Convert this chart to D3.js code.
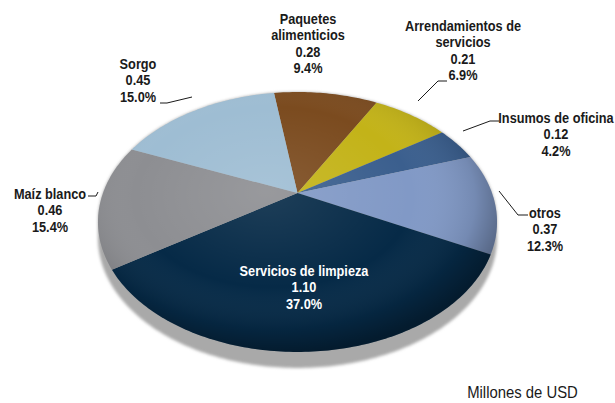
<!DOCTYPE html>
<html>
<head>
<meta charset="utf-8">
<script src="https://cdn.jsdelivr.net/npm/d3@7"></script>
<style>
  html, body { margin: 0; padding: 0; background: #fff; }
  svg { display: block; }
  .lbl { font-family: "Liberation Sans", Arial, sans-serif; font-weight: bold; font-size: 15px; }
  .unit { font-family: "Liberation Sans", Arial, sans-serif; font-size: 16px; fill: #1a1a1a; }
</style>
</head>
<body>
<svg id="chart" width="615" height="403"></svg>
<script>
// ---- data ----
const categories = ["Paquetes alimenticios", "Arrendamientos de servicios", "Insumos de oficina", "otros", "Servicios de limpieza", "Maíz blanco", "Sorgo"];
const values = [0.28, 0.21, 0.12, 0.37, 1.10, 0.46, 0.45];
const percentLabels = ["9.4%", "6.9%", "4.2%", "12.3%", "37.0%", "15.4%", "15.0%"];
const nameLines = [["Paquetes", "alimenticios"], ["Arrendamientos de", "servicios"], ["Insumos de oficina"], ["otros"], ["Servicios de limpieza"], ["Maíz blanco"], ["Sorgo"]];
const unitLabel = "Millones de USD";

// ---- styles / layout ----
const colors = ["#7b4b1f", "#c3b318", "#3b5f8e", "#8199c6", "#062a47", "#8d8e92", "#9ebdd3"];
const labelPos = [[308, 23.5], [463, 30.5], [556, 122.5], [545, 217.5], [304, 275.5], [50, 198.5], [138, 68.5]];
const labelColor = ["#1a1a1a", "#1a1a1a", "#1a1a1a", "#1a1a1a", "#ffffff", "#1a1a1a", "#1a1a1a"];
const leaders = [null,
  [[418, 101], [438, 81], [447, 81]],
  [[463, 131], [490, 121], [499, 121]],
  [[499, 191], [518, 215], [528, 215]],
  null,
  [[88, 196], [96, 196], [98, 192]],
  [[160, 103], [167, 103], [192, 97]]];

const cx = 297.5, cy = 193, A = 194.5, B = 123.5, K = 0.223, depth = 16;
const startDeg = -7.6, warpDeg = 6.6;
const textScale = 0.85, lh = 16.6;

const svg = d3.select("#chart");
const defs = svg.append("defs");

defs.append("filter").attr("id", "blur").attr("x", "-10%").attr("y", "-10%").attr("width", "120%").attr("height", "120%")
  .append("feGaussianBlur").attr("stdDeviation", 1.4);

const shade = defs.append("radialGradient").attr("id", "shade")
  .attr("cx", 0.45).attr("cy", 0.42).attr("r", 0.58).attr("fx", 0.42).attr("fy", 0.38);
shade.append("stop").attr("offset", 0).attr("stop-color", "#fff").attr("stop-opacity", 0.10);
shade.append("stop").attr("offset", 0.6).attr("stop-color", "#fff").attr("stop-opacity", 0.0);
shade.append("stop").attr("offset", 0.86).attr("stop-color", "#000").attr("stop-opacity", 0.10);
shade.append("stop").attr("offset", 1).attr("stop-color", "#000").attr("stop-opacity", 0.35);

const warp = warpDeg * Math.PI / 180;
function proj(t0) {
  const t = t0 + warp * Math.sin(t0);
  const d = 1 + K * Math.cos(t);
  return [cx + A * Math.sin(t) / d, cy - B * Math.cos(t) / d];
}

const s0 = startDeg * Math.PI / 180;
const pie = d3.pie().sort(null).value(d => d).startAngle(s0).endAngle(s0 + 2 * Math.PI);
const arcs = pie(values);
const line = d3.line();

// full outline
const outline = d3.range(0, 360, 1).map(deg => proj(deg * Math.PI / 180));

// side / extrusion
const hull = d3.polygonHull(outline.concat(outline.map(p => [p[0], p[1] + depth])));
svg.append("path").attr("d", line(hull) + "Z").attr("fill", "#a9a9a9").attr("filter", "url(#blur)");

// slices
svg.append("g").selectAll("path").data(arcs).join("path")
  .attr("d", d => {
    const n = Math.max(2, Math.ceil((d.endAngle - d.startAngle) / (Math.PI / 180)));
    const pts = [[cx, cy]];
    for (let i = 0; i <= n; i++) pts.push(proj(d.startAngle + (d.endAngle - d.startAngle) * i / n));
    return line(pts) + "Z";
  })
  .attr("fill", (d, i) => colors[i]);

// shading overlay
svg.append("path").attr("d", line(outline) + "Z").attr("fill", "url(#shade)");

// leader lines
svg.append("g").selectAll("path").data(leaders.filter(d => d)).join("path")
  .attr("d", d => line(d)).attr("fill", "none").attr("stroke", "#1a1a1a").attr("stroke-width", 1);

// labels
arcs.forEach((d, i) => {
  const lines = nameLines[i].concat([d3.format(".2f")(values[i]), percentLabels[i]]);
  const t = svg.append("text").attr("class", "lbl").attr("text-anchor", "middle")
    .attr("transform", `translate(${labelPos[i][0]},${labelPos[i][1]}) scale(${textScale},1)`)
    .style("fill", labelColor[i]);
  lines.forEach((s, j) => {
    t.append("tspan").attr("x", 0).attr("y", j * lh).text(s);
  });
});

svg.append("text").attr("class", "unit").attr("text-anchor", "middle")
  .attr("transform", "translate(522.5,398) scale(0.93,1)").text(unitLabel);
</script>
</body>
</html>
